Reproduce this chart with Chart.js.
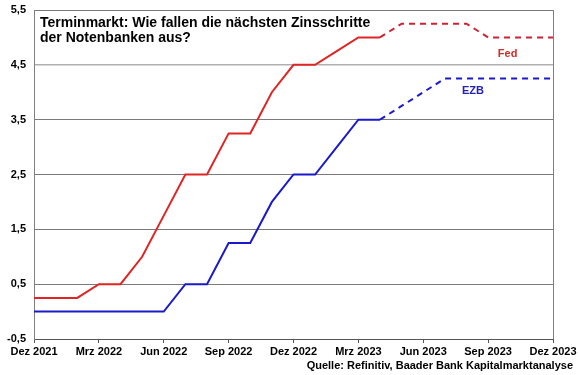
<!DOCTYPE html>
<html><head><meta charset="utf-8">
<script src="https://cdn.jsdelivr.net/npm/chart.js@4/dist/chart.umd.min.js"></script>
<style>html,body{margin:0;padding:0;background:#fff}#wrap{width:580px;height:375px;position:relative}</style>
</head><body><div id="wrap"><canvas id="c" width="580" height="375"></canvas></div>
<script>
const months = [0,1,2,3,4,5,6,7,8,9,10,11,12,13,14,15,16,17,18,19,20,21,22,23,24];
const fed = [0.25,0.25,0.25,0.5,0.5,1.0,1.75,2.5,2.5,3.25,3.25,4.0,4.5,4.5,4.75,5.0,5.0,5.25,5.25,5.25,5.25,5.0,5.0,5.0,5.0];
const ezb = [0,0,0,0,0,0,0,0.5,0.5,1.25,1.25,2.0,2.5,2.5,3.0,3.5,3.5,3.75,4.0,4.25,4.25,4.25,4.25,4.25,4.25];
const forecastStart = 16;
const xTickLabels = {0:'Dez 2021',3:'Mrz 2022',6:'Jun 2022',9:'Sep 2022',12:'Dez 2022',15:'Mrz 2023',18:'Jun 2023',21:'Sep 2023',24:'Dez 2023'};
const titleLines = ['Terminmarkt: Wie fallen die nächsten Zinsschritte','der Notenbanken aus?'];
const sourceText = 'Quelle: Refinitiv, Baader Bank Kapitalmarktanalyse';

const FONT = '"Liberation Sans", Arial, sans-serif';
function pts(arr){ return months.map((m,i)=>({x:m,y:arr[i]})); }
function seg(solid, dashed){
  return {
    borderDash: c => c.p0.parsed.x >= forecastStart ? [6,5] : undefined,
    borderColor: c => c.p0.parsed.x >= forecastStart ? dashed : solid
  };
}
const textPlugin = {
  id:'texts',
  afterDraw(chart){
    const ctx = chart.ctx, a = chart.chartArea, xs = chart.scales.x, ys = chart.scales.y;
    ctx.save();
    ctx.strokeStyle = '#808080'; ctx.lineWidth = 1;
    ctx.beginPath(); ctx.moveTo(a.right+0.5, a.top); ctx.lineTo(a.right+0.5, a.bottom); ctx.stroke();
    ctx.fillStyle = '#000'; ctx.textBaseline = 'middle'; ctx.textAlign = 'left';
    ctx.font = 'bold 14px ' + FONT;
    ctx.fillText(titleLines[0], 40, 23);
    ctx.fillText(titleLines[1], 40, 38);
    ctx.font = 'bold 11px ' + FONT;
    ctx.textAlign = 'right';
    ctx.fillText(sourceText, 573, 366);
    ctx.textAlign = 'center';
    ctx.fillStyle = '#d42a2a';
    ctx.fillText('Fed', xs.getPixelForValue(21.9), ys.getPixelForValue(4.7));
    ctx.fillStyle = '#2222bb';
    ctx.fillText('EZB', xs.getPixelForValue(20.3), ys.getPixelForValue(4.03));
    ctx.restore();
  }
};
new Chart(document.getElementById('c'), {
  type:'line',
  data:{datasets:[
    {label:'Fed', data:pts(fed), borderColor:'#e02525', borderWidth:2, pointRadius:0, tension:0, segment:seg('#e02525','#cc2233')},
    {label:'EZB', data:pts(ezb), borderColor:'#1a1acc', borderWidth:2, pointRadius:0, tension:0, segment:seg('#1a1acc','#1a1acc')}
  ]},
  options:{
    responsive:false, animation:false, devicePixelRatio:1,
    layout:{padding:{top:10,right:27,left:0,bottom:0}},
    plugins:{legend:{display:false}, tooltip:{enabled:false}},
    scales:{
      x:{type:'linear', min:0, max:24,
        afterFit(s){ s.height = 36; s.paddingLeft = 0; s.paddingRight = 0; },
        ticks:{stepSize:3, autoSkip:false, maxRotation:0, padding:2, color:'#000',
          font:{family:FONT, size:11, weight:'bold'},
          callback:v => xTickLabels[v] ?? ''},
        grid:{drawOnChartArea:false, drawTicks:true, tickLength:4, color:'#555'},
        border:{color:'#555', width:1}
      },
      y:{min:-0.5, max:5.5,
        afterFit(s){ s.width = 34; s.paddingTop = 0; s.paddingBottom = 0; },
        ticks:{stepSize:1, padding:8, color:'#000',
          font:{family:FONT, size:11, weight:'bold'},
          callback:v => v.toFixed(1).replace('.',',')},
        grid:{drawTicks:false, color:c => (c.tick && c.tick.value === 4.5) ? '#b0b0b0' : '#7a7a7a', lineWidth:c => (c.tick && c.tick.value === 4.5) ? 1.5 : 1},
        border:{color:'#808080', width:1}
      }
    }
  },
  plugins:[textPlugin]
});
</script></body></html>
